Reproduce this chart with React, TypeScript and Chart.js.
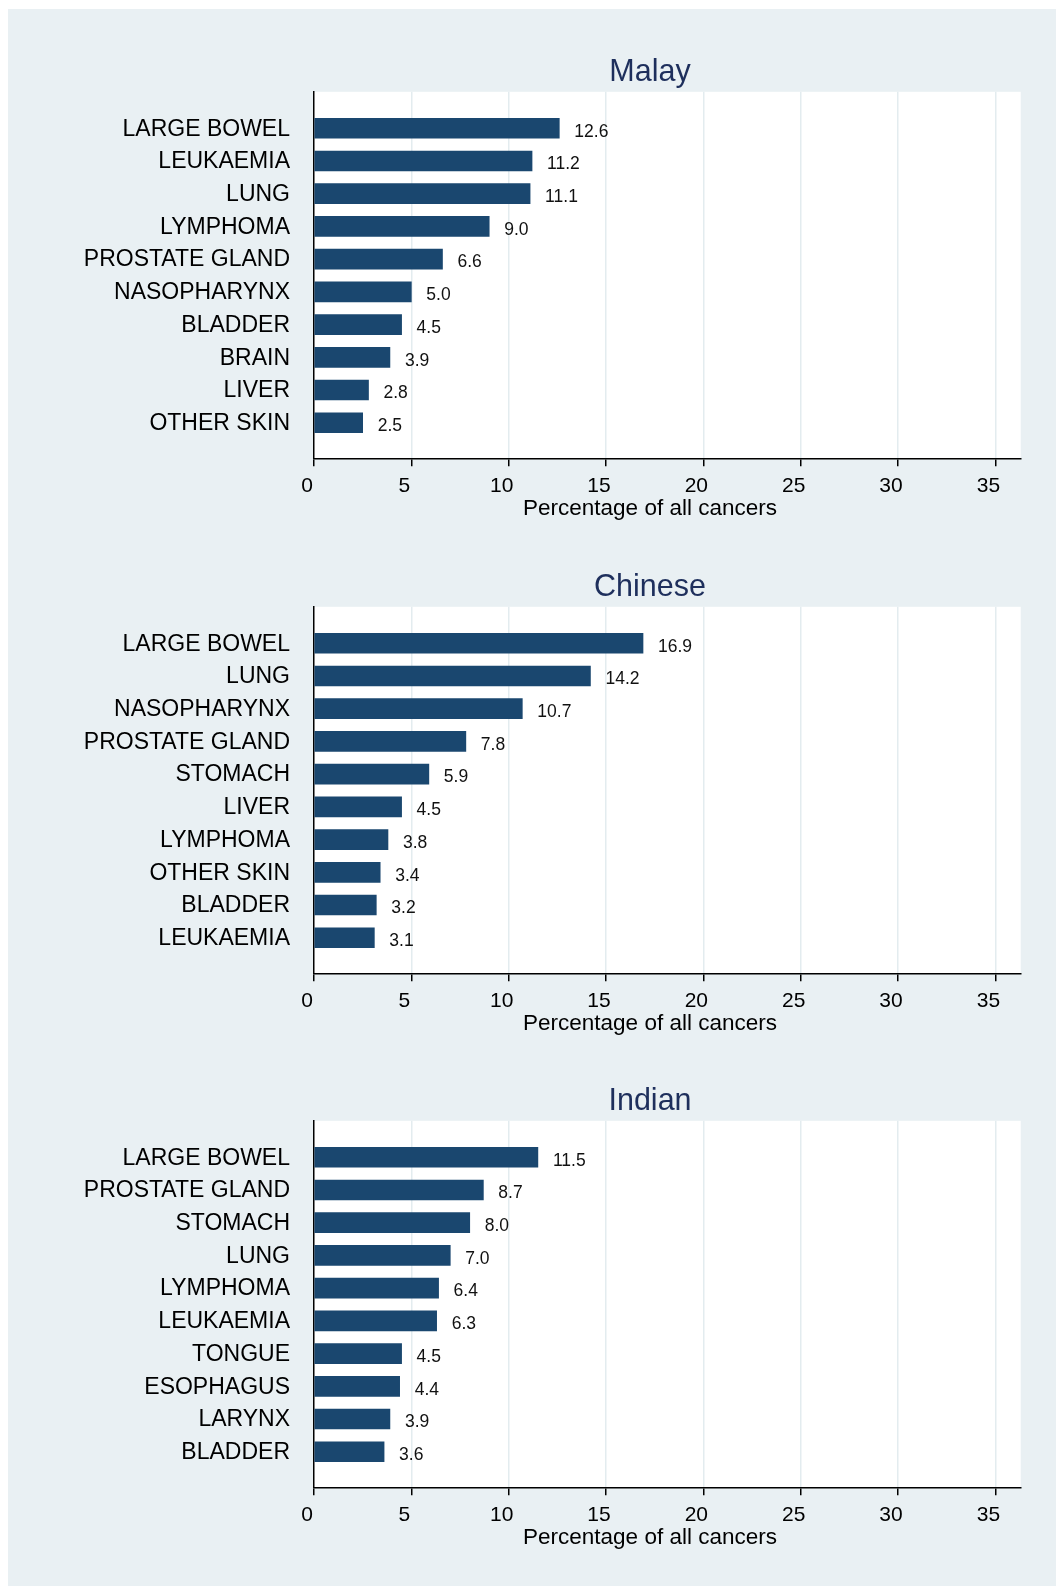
import React, { useEffect, useRef } from "react";
import { Chart, registerables } from "chart.js";

Chart.register(...registerables);

// ---------- Data ----------
const malayTitle = "Malay";
const malayCategories = [
  "LARGE BOWEL",
  "LEUKAEMIA",
  "LUNG",
  "LYMPHOMA",
  "PROSTATE GLAND",
  "NASOPHARYNX",
  "BLADDER",
  "BRAIN",
  "LIVER",
  "OTHER SKIN",
];
const malayValues = [12.6, 11.2, 11.1, 9.0, 6.6, 5.0, 4.5, 3.9, 2.8, 2.5];

const chineseTitle = "Chinese";
const chineseCategories = [
  "LARGE BOWEL",
  "LUNG",
  "NASOPHARYNX",
  "PROSTATE GLAND",
  "STOMACH",
  "LIVER",
  "LYMPHOMA",
  "OTHER SKIN",
  "BLADDER",
  "LEUKAEMIA",
];
const chineseValues = [16.9, 14.2, 10.7, 7.8, 5.9, 4.5, 3.8, 3.4, 3.2, 3.1];

const indianTitle = "Indian";
const indianCategories = [
  "LARGE BOWEL",
  "PROSTATE GLAND",
  "STOMACH",
  "LUNG",
  "LYMPHOMA",
  "LEUKAEMIA",
  "TONGUE",
  "ESOPHAGUS",
  "LARYNX",
  "BLADDER",
];
const indianValues = [11.5, 8.7, 8.0, 7.0, 6.4, 6.3, 4.5, 4.4, 3.9, 3.6];

const xTickValues = [0, 5, 10, 15, 20, 25, 30, 35];
const xAxisTitle = "Percentage of all cancers";

// ---------- Styling ----------
const FONT = "'Liberation Sans', Arial, Helvetica, sans-serif";
const BAR_COLOR = "#1a476f";
const TITLE_COLOR = "#1e2f5c";
const PAGE_BG = "#e9f0f3";
const GRID_COLOR = "#e3ecef";
const CANVAS_W = 1029;
const CANVAS_H = 514;
const Y_LABEL_SIZE = 23;
const Y_LABEL_GAP = 24;
const Y_AXIS_W = 34.7;

function measureWidest(labels: string[], size: number): number {
  const ctx = document.createElement("canvas").getContext("2d");
  if (!ctx) return 0;
  ctx.font = `${size}px ${FONT}`;
  return Math.max(...labels.map((l) => ctx.measureText(l).width));
}

const plotBgPlugin = {
  id: "plotBg",
  beforeDraw(chart: any) {
    const { ctx, chartArea: a } = chart;
    ctx.save();
    ctx.fillStyle = "#ffffff";
    ctx.fillRect(a.left, a.top, a.right - a.left, a.bottom - a.top);
    ctx.restore();
  },
};

const valueLabelPlugin = {
  id: "valueLabels",
  afterDatasetsDraw(chart: any) {
    const { ctx } = chart;
    const meta = chart.getDatasetMeta(0);
    const data = chart.data.datasets[0].data as any[];
    ctx.save();
    ctx.font = `17.5px ${FONT}`;
    ctx.fillStyle = "#111111";
    ctx.textAlign = "left";
    ctx.textBaseline = "middle";
    meta.data.forEach((bar: any, i: number) => {
      const v = data[i].x as number;
      ctx.fillText(v.toFixed(1), bar.x + 15, bar.y + 3.5);
    });
    ctx.restore();
  },
};

function Panel(props: {
  title: string;
  categories: string[];
  values: number[];
  top: number;
}) {
  const ref = useRef<HTMLCanvasElement | null>(null);
  const { title, categories, values, top } = props;

  useEffect(() => {
    if (!ref.current) return;
    const widest = measureWidest(categories, Y_LABEL_SIZE);
    const chart = new Chart(ref.current, {
      type: "bar",
      data: {
        datasets: [
          {
            data: values.map((v, i) => ({ x: v, y: i })) as any,
            backgroundColor: BAR_COLOR,
            borderWidth: 0,
            barThickness: 20,
          },
        ],
      },
      options: {
        indexAxis: "y",
        responsive: false,
        animation: false,
        devicePixelRatio: 1,
        layout: { padding: { top: 45.6, bottom: 12.3, left: 271.3, right: 16.3 } },
        plugins: {
          legend: { display: false },
          tooltip: { enabled: false },
          title: {
            display: true,
            text: title,
            color: TITLE_COLOR,
            font: { family: FONT, size: 30.5, weight: "normal", lineHeight: 1.2 },
            padding: { top: 0, bottom: 0.6 },
          },
          subtitle: {
            display: true,
            position: "bottom",
            text: xAxisTitle,
            color: "#000000",
            font: { family: FONT, size: 22.5, weight: "normal", lineHeight: 0.151 },
            padding: { top: 2, bottom: 0 },
          },
        },
        scales: {
          x: {
            type: "linear",
            position: "bottom",
            min: 0,
            max: 36.3,
            afterBuildTicks: (s: any) => {
              s.ticks = xTickValues.map((v) => ({ value: v }));
            },
            grid: {
              color: (c: any) =>
                c.tick && c.tick.value === 0 ? "rgba(0,0,0,0)" : GRID_COLOR,
              lineWidth: 1.5,
              tickColor: "#000000",
              tickLength: 8,
              tickWidth: 1.5,
            } as any,
            border: { display: true, color: "#000000", width: 1.5 },
            ticks: {
              font: { family: FONT, size: 21, lineHeight: 1 },
              color: "#000000",
              padding: 9,
              labelOffset: -7,
              maxRotation: 0,
              autoSkip: false,
            },
          },
          y: {
            type: "linear",
            position: "left",
            reverse: true,
            offset: false,
            min: -1.114,
            max: 10.086,
            afterBuildTicks: (s: any) => {
              s.ticks = categories.map((_, i) => ({ value: i }));
            },
            afterFit: (s: any) => {
              s.width = Y_AXIS_W;
            },
            grid: { display: false, drawTicks: false, offset: false },
            border: { display: true, color: "#000000", width: 1.5 },
            ticks: {
              callback: (v: any) => categories[v as number] ?? "",
              font: { family: FONT, size: Y_LABEL_SIZE },
              color: "#000000",
              mirror: true,
              crossAlign: "far",
              padding: -(Y_LABEL_GAP + widest),
              labelOffset: 1,
              autoSkip: false,
            },
          },
        },
      } as any,
      plugins: [plotBgPlugin, valueLabelPlugin],
    });
    return () => chart.destroy();
  }, []);

  return (
    <canvas
      ref={ref}
      width={CANVAS_W}
      height={CANVAS_H}
      style={{
        position: "absolute",
        left: 0,
        top,
        width: CANVAS_W,
        height: CANVAS_H,
      }}
    />
  );
}

export default function App() {
  return (
    <div
      style={{
        position: "fixed",
        top: 9,
        left: 8,
        right: 0,
        bottom: 0,
        background: PAGE_BG,
        overflow: "hidden",
      }}
    >
      <Panel title={malayTitle} categories={malayCategories} values={malayValues} top={0} />
      <Panel title={chineseTitle} categories={chineseCategories} values={chineseValues} top={515} />
      <Panel title={indianTitle} categories={indianCategories} values={indianValues} top={1029} />
    </div>
  );
}
